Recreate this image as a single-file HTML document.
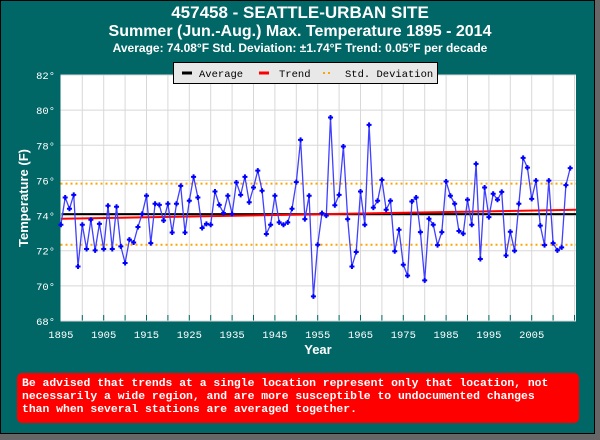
<!DOCTYPE html>
<html><head><meta charset="utf-8"><style>
body{margin:0;width:600px;height:440px;background:#666;overflow:hidden;font-family:"Liberation Sans",sans-serif}
#frame{position:absolute;left:0;top:0;width:593px;height:432px;background:#006666;border:1px solid #000}
.t{position:absolute;color:#fff;font-weight:bold;text-align:center;width:600px;left:0}
#warn{position:absolute;left:17px;top:373px;width:562px;height:50px;background:#f00;border-radius:5px;color:#fff;font:bold 11.4px/13px "Liberation Mono",monospace;padding:5px 17px 0 5px;box-sizing:border-box}
</style></head><body>
<div id="frame"></div>
<div class="t" style="top:3px;font-size:17px">457458 - SEATTLE-URBAN SITE</div>
<div class="t" style="top:23px;font-size:16px">Summer (Jun.-Aug.) Max. Temperature 1895 - 2014</div>
<div class="t" style="top:41px;font-size:12px">Average: 74.08°F Std. Deviation: ±1.74°F Trend: 0.05°F per decade</div>
<svg id="chart" width="600" height="440" style="position:absolute;left:0;top:0"></svg>
<div id="warn">Be advised that trends at a single location represent only that location, not necessarily a wide region, and are more susceptible to undocumented changes than when several stations are averaged together.</div>
<script>
const startYear = 1895;
const temps = [73.48,75.03,74.39,75.18,71.1,73.48,72.1,73.76,72.02,73.53,
72.1,74.56,72.1,74.5,72.25,71.3,72.63,72.47,73.35,74.1,
75.13,72.43,74.67,74.61,73.72,74.67,73.04,74.67,75.69,73.04,
74.84,76.2,75.03,73.29,73.53,73.48,75.37,74.61,74.14,75.13,
74.1,75.88,75.18,76.2,74.76,75.6,76.56,75.41,72.95,73.48,
75.13,73.61,73.48,73.61,74.39,75.9,78.31,73.8,75.13,69.4,
72.34,74.14,74.0,79.58,74.59,75.18,77.93,73.8,71.1,71.93,
75.37,73.48,79.16,74.45,74.84,76.03,74.33,74.84,71.97,73.19,
71.2,70.58,74.8,75.03,73.06,70.31,73.82,73.48,72.32,73.06,
75.94,75.13,74.67,73.12,72.97,74.9,73.48,76.94,71.53,75.6,
73.91,75.24,74.9,75.35,71.73,73.08,72.0,74.67,77.28,76.73,
74.95,75.99,73.43,72.32,75.99,72.43,72.02,72.19,75.73,76.7];
const average = 74.08;
const stdDev = 1.74;
const trendStart = 73.82, trendEnd = 74.33;
const yTicks = [68,70,72,74,76,78,80,82];
const xTicks = [1895,1905,1915,1925,1935,1945,1955,1965,1975,1985,1995,2005];
const PL=60.5,PR=576,PT=75,PB=321;
const xs = y => 60.9 + (y-1895)*4.28;
const ys = v => PT + (82-v)*(PB-PT)/14;
const svg=document.getElementById('chart');
const NS='http://www.w3.org/2000/svg';
function mk(tag,attrs,parent){const e=document.createElementNS(NS,tag);for(const k in attrs)e.setAttribute(k,attrs[k]);(parent||svg).appendChild(e);return e;}
const bg=mk('rect',{x:PL,y:PT,width:PR-PL,height:PB-PT,fill:'#fff'});


for(let yr=1900;yr<=2015;yr+=5){const l=mk('line',{x1:xs(yr),x2:xs(yr),y1:PT,y2:PB,stroke:'#d8d8d8','stroke-width':1});


const tk=mk('line',{x1:xs(yr),x2:xs(yr),y1:PB-6,y2:PB,stroke:'#006666','stroke-width':1});

}
yTicks.forEach(v=>{const l=mk('line',{x1:PL,x2:PR,y1:ys(v),y2:ys(v),stroke:'#d8d8d8','stroke-width':1});


const t=mk('text',{x:55,y:ys(v)+4,'text-anchor':'end',fill:'#fff','font-size':'10.5','font-family':'Liberation Mono, monospace'});t.textContent=v+'°';

});
xTicks.forEach(v=>{const t=mk('text',{x:xs(v),y:338,'text-anchor':'middle',fill:'#fff','font-size':'10.5','font-family':'Liberation Mono, monospace'});t.textContent=v;

});
const xt=mk('text',{x:318,y:354,'text-anchor':'middle',fill:'#fff','font-size':'13','font-weight':'bold'});xt.textContent='Year';


const yt=mk('text',{x:0,y:0,transform:'translate(28,198) rotate(-90)','text-anchor':'middle',fill:'#fff','font-size':'13','font-weight':'bold'});yt.textContent='Temperature (F)';


[average+stdDev,average-stdDev].forEach(v=>{const l=mk('line',{x1:PL,x2:PR,y1:ys(v),y2:ys(v),stroke:'#ffa500','stroke-width':2,'stroke-dasharray':'2,3'});

});
const al=mk('line',{x1:PL+1,x2:PR,y1:ys(average),y2:ys(average),stroke:'#000','stroke-width':2});


const tl=mk('line',{x1:xs(1895),x2:PR,y1:ys(trendStart),y2:ys(trendEnd),stroke:'#f00','stroke-width':2});


const pts=temps.map((v,i)=>xs(startYear+i).toFixed(1)+','+ys(v).toFixed(1)).join(' ');
const pl=mk('polyline',{points:pts,fill:'none',stroke:'#4040ff','stroke-width':1.3});


temps.forEach((v,i)=>{const x=xs(startYear+i),y=ys(v);
const p=mk('path',{d:`M${x-2.5},${y}h5M${x},${y-2.5}v5`,stroke:'#0000ff','stroke-width':2});

});
// legend
const lg=mk('g',{});


mk('rect',{x:173.5,y:62.5,width:264,height:21,fill:'#e8e8e8',stroke:'#000'},lg);
const items=[['Average','#000',182,199,false],['Trend','#f00',259,279,false],['Std. Deviation','#ffa500',323,345,true]];
items.forEach(it=>{const g=mk('g',{},lg);


mk('line',{x1:it[2],x2:it[2]+10,y1:73,y2:73,stroke:it[1],'stroke-width':it[4]?2:3,'stroke-dasharray':it[4]?'2,3':''},g);
const t=mk('text',{x:it[3],y:77,'font-size':'10.5','font-family':'Liberation Mono, monospace',fill:'#000'},g);t.textContent=it[0];});
</script>
</body></html>
